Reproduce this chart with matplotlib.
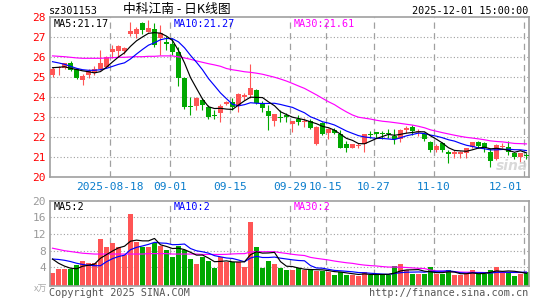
import matplotlib
matplotlib.use('Agg')
import matplotlib.pyplot as plt
import numpy as np

# ---------------- data ----------------
tick_idx = [10, 20, 30, 40, 46, 54, 64, 79]
tick_labels = ["2025-08-18", "09-01", "09-15", "09-29", "10-15", "10-27", "11-10", "12-01"]

opens = [25.13, 25.45, 25.48, 25.70, 25.40, 24.87, 25.13, 25.23, 25.40, 25.53,
         26.28, 26.30, 26.32, 27.18, 27.15, 27.70, 27.28, 27.42, 26.95, 26.78,
         26.65, 26.28, 24.95, 23.55, 23.58, 23.87, 23.53, 23.12, 23.20, 23.65,
         23.75, 23.58, 24.02, 24.12, 24.37, 23.70, 23.32, 22.82, 23.00, 23.10,
         22.65, 22.92, 22.75, 22.82, 21.67, 22.70, 22.20, 22.37, 22.15, 21.65,
         21.48, 21.58, 21.65, 22.18, 22.28, 22.18, 22.20, 22.08, 21.92, 22.37,
         22.53, 22.25, 22.15, 21.75, 21.37, 21.70, 21.28, 21.15, 21.15, 21.20,
         21.53, 21.75, 21.70, 21.28, 20.92, 21.50, 21.50, 21.23, 21.03, 21.12]
highs = [25.53, 25.58, 25.73, 25.80, 25.42, 25.17, 25.40, 25.55, 26.37, 26.06,
         26.62, 26.62, 26.50, 27.78, 27.53, 27.78, 27.87, 27.70, 27.62, 27.08,
         26.95, 26.53, 25.03, 24.03, 24.03, 23.98, 23.62, 23.37, 23.65, 23.83,
         23.98, 24.20, 24.20, 25.65, 24.42, 23.82, 23.62, 23.15, 23.37, 23.20,
         22.82, 23.12, 22.95, 22.92, 22.55, 22.75, 22.45, 22.45, 22.37, 21.82,
         21.65, 21.70, 22.18, 22.32, 22.28, 22.32, 22.42, 22.42, 22.42, 22.57,
         22.62, 22.40, 22.28, 21.82, 21.65, 21.78, 21.37, 21.37, 21.32, 21.48,
         21.78, 21.82, 21.78, 21.48, 21.65, 21.70, 21.82, 21.28, 21.23, 21.20]
lows = [25.00, 25.12, 25.40, 25.32, 24.93, 24.60, 24.95, 25.13, 25.38, 25.50,
        25.98, 26.00, 26.15, 27.08, 26.95, 27.15, 27.28, 26.53, 26.12, 26.37,
        26.12, 24.58, 23.42, 23.12, 23.37, 23.37, 22.92, 22.92, 22.75, 23.60,
        23.37, 23.28, 23.87, 23.95, 23.65, 23.28, 22.37, 22.57, 22.75, 22.75,
        22.28, 22.62, 22.53, 22.42, 21.60, 22.12, 21.92, 22.15, 21.45, 21.25,
        21.45, 21.45, 21.25, 21.98, 21.95, 21.92, 21.98, 21.65, 21.78, 22.20,
        22.12, 22.05, 21.82, 21.28, 21.25, 21.25, 20.70, 20.98, 20.95, 20.98,
        21.45, 21.48, 21.28, 20.53, 20.87, 21.45, 21.12, 20.90, 20.78, 20.90]
closes = [25.41, 25.53, 25.70, 25.37, 24.95, 25.07, 25.31, 25.40, 25.70, 26.03,
          26.40, 26.55, 26.45, 27.32, 27.40, 27.37, 27.45, 26.62, 27.20, 26.65,
          26.28, 24.95, 23.53, 23.52, 23.95, 23.62, 23.03, 23.07, 23.58, 23.75,
          23.53, 24.15, 24.12, 24.48, 23.70, 23.48, 23.08, 23.15, 22.98, 23.00,
          22.82, 22.75, 22.82, 22.48, 22.53, 22.15, 22.42, 22.20, 21.48, 21.48,
          21.65, 21.62, 22.15, 22.13, 22.15, 22.15, 22.15, 21.92, 22.37, 22.45,
          22.32, 22.32, 21.92, 21.37, 21.58, 21.37, 21.15, 21.25, 21.25, 21.48,
          21.75, 21.58, 21.48, 20.82, 21.62, 21.55, 21.27, 21.00, 21.20, 21.08]
volumes = [2.6, 3.7, 3.7, 3.7, 4.6, 5.6, 5.0, 5.0, 10.8, 8.9,
           9.9, 8.8, 7.0, 16.8, 10.2, 9.0, 8.8, 9.9, 9.2, 8.2,
           6.5, 9.2, 8.2, 6.0, 4.8, 6.6, 5.6, 3.8, 6.4, 5.4,
           5.4, 5.4, 4.1, 14.9, 8.9, 3.8, 5.6, 4.8, 3.8, 3.4,
           3.4, 3.8, 3.4, 3.4, 3.2, 3.2, 2.9, 2.2, 2.9, 2.2,
           2.2, 2.0, 2.9, 2.2, 2.2, 2.2, 2.2, 4.3, 4.8, 3.4,
           2.4, 2.4, 2.4, 4.1, 2.4, 2.4, 3.4, 2.1, 2.1, 2.4,
           3.4, 2.4, 2.4, 3.4, 4.1, 2.9, 2.9, 2.0, 2.3, 2.8]

# moving-average values before a full window exists
ma5_head = [25.48, 25.50, 25.53, 25.45]
ma10_head = [25.78, 25.72, 25.65, 25.55, 25.45, 25.38, 25.35, 25.35, 25.38]
ma30_head = [26.07, 26.05, 26.03, 26.00, 25.97, 25.95, 25.95, 25.95, 25.95, 25.97,
             25.98, 26.00, 26.00, 26.02, 26.03, 26.03, 26.05, 26.05, 26.07, 26.07,
             26.07, 26.02, 25.97, 25.90, 25.82, 25.75, 25.68, 25.62, 25.55]
vma5_head = [6.0, 5.0, 4.3, 3.8]
vma10_head = [6.0, 5.9, 5.7, 5.4, 5.0, 4.7, 4.5, 4.4, 4.4]
vma30_head = [8.6, 8.3, 8.0, 7.8, 7.6, 7.4, 7.3, 7.2, 7.2, 7.2,
              7.2, 7.2, 7.2, 7.2, 7.2, 7.2, 7.3, 7.3, 7.3, 7.3,
              7.2, 7.2, 7.2, 7.2, 7.2, 7.1, 7.1, 7.1, 7.1]

stock_code = "sz301153"
title_text = "中科江南 - 日K线图"
time_text = "2025-12-01 15:00:00"
ma_price_text = ["MA5:21.17", "MA10:21.27", "MA30:21.61"]
ma_vol_text = ["MA5:2", "MA10:2", "MA30:2"]


def moving_avg(vals, n, head):
    vals = np.asarray(vals, float)
    out = np.empty(len(vals))
    for i in range(len(vals)):
        if i < n - 1:
            out[i] = head[i]
        else:
            out[i] = vals[i - n + 1:i + 1].mean()
    return out

# ---------------- style ----------------
RED = '#FF5555'
GREEN = '#00A800'
FRAME = '#A0A0A0'
MONO = 'DejaVu Sans Mono'
CJK = ['Noto Sans CJK SC', 'DejaVu Sans']

W, H = 545, 300
fig = plt.figure(figsize=(W / 100, H / 100), dpi=100)
fig.patch.set_facecolor('white')


def px_ax(l, t, r, b):
    return fig.add_axes([l / W, 1 - b / H, (r - l) / W, (b - t) / H])


def fx(x):
    return x / W


def fy(y):
    return 1 - y / H

n = len(closes)
x = np.arange(n)
OFF = 0.417
grid_x = [i - OFF for i in tick_idx]
XL = (-OFF, 79.47)
PL, PR = 50, 529.3

ax = px_ax(PL, 17.3, PR, 177.3)
axv = px_ax(PL, 200.7, PR, 285.5)

for a in (ax, axv):
    for s in a.spines.values():
        s.set_color(FRAME)
        s.set_linewidth(1.2)
    a.set_xlim(*XL)
    a.set_xticks([])
    a.tick_params(axis='y', length=0, pad=3)
    for gx in grid_x:
        a.axvline(gx, color=FRAME, lw=0.9, ls=(0, (5, 3.5)), zorder=0.5)

# ---- price panel ----
ax.set_ylim(20, 28)
ax.set_yticks(range(20, 29))
ax.set_yticklabels([str(v) for v in range(20, 29)], color='#FF0000',
                   fontfamily=MONO, fontsize=8)
for v in range(21, 28):
    ax.axhline(v, color=FRAME, lw=0.8, ls=(0, (1, 2)), zorder=0.5)

for i in range(n):
    o, h, l, c = opens[i], highs[i], lows[i], closes[i]
    col = RED if c >= o else GREEN
    ax.vlines(x[i], l, h, color=col, lw=0.8, zorder=2)
    bot = min(o, c)
    hgt = max(abs(c - o), 0.05)
    ax.bar(x[i], hgt, bottom=bot, width=0.8, color=col, lw=0, zorder=3)

ma5 = moving_avg(closes, 5, ma5_head)
ma10 = moving_avg(closes, 10, ma10_head)
ma30 = moving_avg(closes, 30, ma30_head)
ax.plot(x, ma30, color='#FF00FF', lw=0.85, zorder=4)
ax.plot(x, ma10, color='#0000FF', lw=0.85, zorder=4)
ax.plot(x, ma5, color='#000000', lw=0.85, zorder=4)

# ---- volume panel ----
VB = -0.35
axv.set_ylim(VB, 20)
axv.set_yticks([4, 8, 12, 16, 20])
axv.set_yticklabels(['4', '8', '12', '16', '20'], color='#999999',
                    fontfamily=MONO, fontsize=8)
for v in (4, 8, 12, 16):
    axv.axhline(v, color=FRAME, lw=0.8, ls=(0, (1, 2)), zorder=0.5)
vcols = [RED if closes[i] >= opens[i] else GREEN for i in range(n)]
axv.bar(x, np.asarray(volumes) - VB, bottom=VB, width=0.8, color=vcols, lw=0, zorder=2)
vma5 = moving_avg(volumes, 5, vma5_head)
vma10 = moving_avg(volumes, 10, vma10_head)
vma30 = moving_avg(volumes, 30, vma30_head)
axv.plot(x, vma30, color='#FF00FF', lw=0.85, zorder=4)
axv.plot(x, vma10, color='#0000FF', lw=0.85, zorder=4)
axv.plot(x, vma5, color='#000000', lw=0.85, zorder=4)

# ---- x date labels ----
for k, (gx, lab) in enumerate(zip(grid_x, tick_labels)):
    xp = PL + (gx - XL[0]) / (XL[1] - XL[0]) * (PR - PL)
    if k == len(tick_labels) - 1:
        fig.text(fx(PR - 6.5), fy(186.5), lab, ha='right', va='center',
                 color='#0A7DCC', fontfamily=MONO, fontsize=8)
    else:
        fig.text(fx(xp), fy(186.5), lab, ha='center', va='center', color='#0A7DCC',
                 fontfamily=MONO, fontsize=8)

# ---- texts ----
fig.text(fx(49), fy(10.5), stock_code, ha='left', va='center', fontfamily=MONO,
         fontsize=7.3, color='black')
fig.text(fx(177), fy(10), title_text, ha='center', va='center', family=CJK,
         fontsize=9.2, color='black')
fig.text(fx(528.5), fy(11), time_text, ha='right', va='center', fontfamily=MONO,
         fontsize=7.3, color='black')

ma_cols = ['#000000', '#0000FF', '#FF00FF']
ma_x = [54, 174, 294]
for t, c, xx in zip(ma_price_text, ma_cols, ma_x):
    fig.text(fx(xx), fy(24.3), t, ha='left', va='center', fontfamily=MONO,
             fontsize=7.3, color=c)
for t, c, xx in zip(ma_vol_text, ma_cols, ma_x):
    fig.text(fx(xx), fy(207.5), t, ha='left', va='center', fontfamily=MONO,
             fontsize=7.3, color=c)

fig.text(fx(47), fy(289), "x万", ha='right', va='center', family=CJK,
         fontsize=6.5, color='#AAAAAA')
fig.text(fx(49), fy(293.5), "Copyright 2025 SINA.COM", ha='left', va='center',
         fontfamily=MONO, fontsize=7.3, color='#555555')
fig.text(fx(528.5), fy(293.5), "http://finance.sina.com.cn", ha='right', va='center',
         fontfamily=MONO, fontsize=7.3, color='#555555')
fig.text(fx(512), fy(166), "sina", ha='center', va='center', fontsize=10,
         fontweight='bold', style='italic', color='#D0D0D0', alpha=0.8, zorder=0)

fig.savefig('out.png', dpi=100, facecolor='white')
